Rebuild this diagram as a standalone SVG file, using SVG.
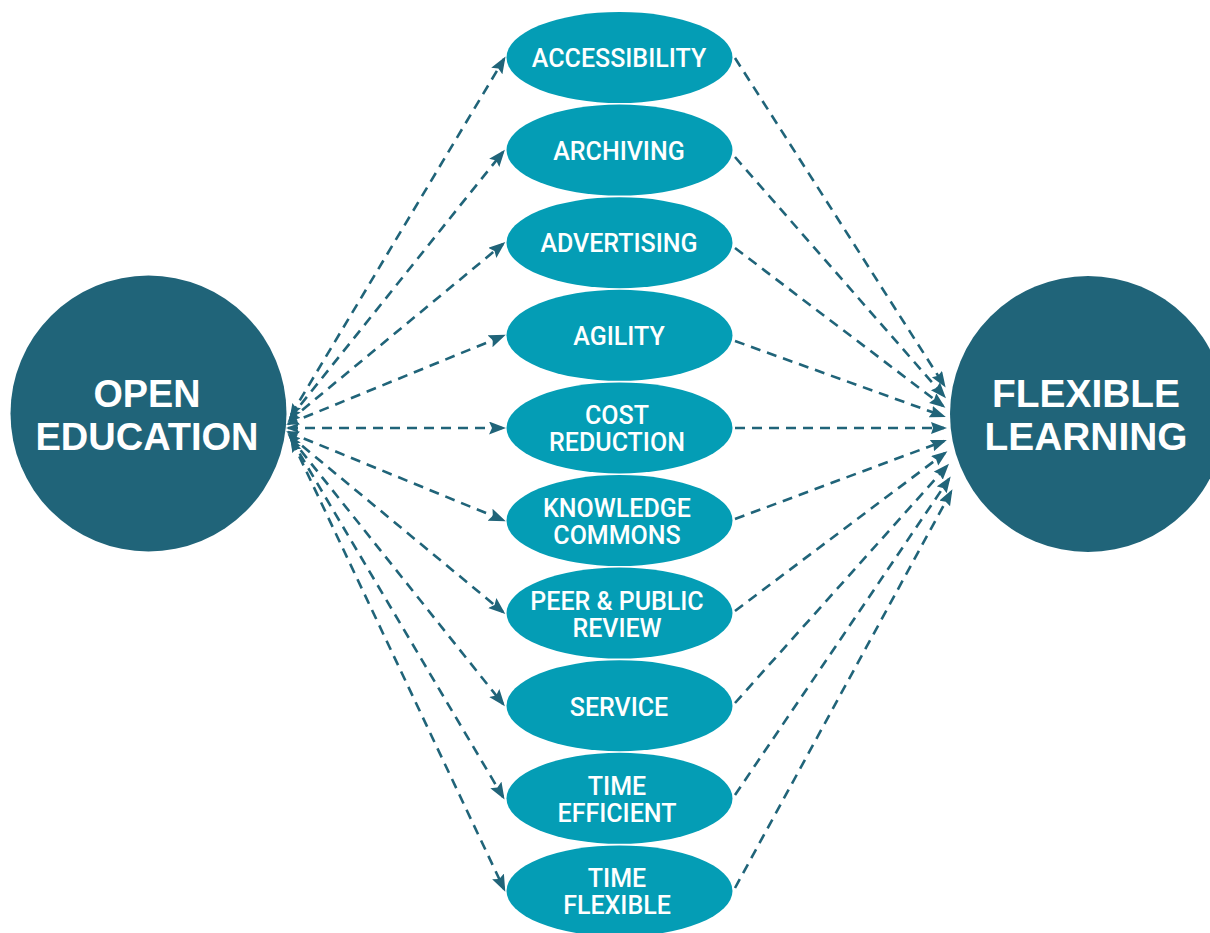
<svg xmlns="http://www.w3.org/2000/svg" width="1210" height="933" viewBox="0 0 1210 933">
<style>
.big{fill:#206479}
.ell{fill:#049db5}
.bt{font-family:"Liberation Sans",Arial,sans-serif;font-weight:700;font-size:38px;fill:#fff;text-anchor:middle}
.et{font-family:Roboto,"Liberation Sans",sans-serif;font-weight:500;font-size:25px;fill:#fff;text-anchor:middle}
.c{stroke:#206479;stroke-width:2.6;stroke-dasharray:10 7;fill:none}
.l{marker-start:url(#as);marker-end:url(#ae)}
.r{marker-end:url(#ar)}
</style>
<defs>
<marker id="ae" markerUnits="userSpaceOnUse" markerWidth="18" markerHeight="14" refX="14" refY="6.5" orient="auto"><path d="M0,0 L17,6.5 L0,13 L3,6.5 z" fill="#206479"/></marker>
<marker id="as" markerUnits="userSpaceOnUse" markerWidth="14" markerHeight="12" refX="11" refY="5" orient="auto-start-reverse"><path d="M0,0 L13,5 L0,10 L2,5 z" fill="#206479"/></marker>
<marker id="ar" markerUnits="userSpaceOnUse" markerWidth="18" markerHeight="14" refX="13" refY="6" orient="auto"><path d="M0,0 L16,6 L0,12 L2,6 z" fill="#206479"/></marker>
</defs>
<g id="connectors">
<line class="c l" x1="291" y1="415" x2="504" y2="59"/>
<line class="c l" x1="290" y1="418" x2="503" y2="152"/>
<line class="c l" x1="289" y1="421" x2="503" y2="244"/>
<line class="c l" x1="288" y1="424" x2="503" y2="336"/>
<line class="c l" x1="288" y1="428" x2="503" y2="428"/>
<line class="c l" x1="288" y1="432" x2="503" y2="520"/>
<line class="c l" x1="289" y1="435" x2="503" y2="612"/>
<line class="c l" x1="290" y1="437" x2="503" y2="704"/>
<line class="c l" x1="291" y1="439" x2="503" y2="797"/>
<line class="c l" x1="292" y1="441" x2="504" y2="889"/>
<line class="c r" x1="735" y1="58" x2="944" y2="385"/>
<line class="c r" x1="735" y1="157" x2="944" y2="396"/>
<line class="c r" x1="735" y1="248" x2="943" y2="406"/>
<line class="c r" x1="735" y1="341" x2="943" y2="416"/>
<line class="c r" x1="735" y1="428" x2="944" y2="428"/>
<line class="c r" x1="735" y1="519" x2="944" y2="441"/>
<line class="c r" x1="735" y1="611" x2="945" y2="453"/>
<line class="c r" x1="735" y1="703" x2="947" y2="466"/>
<line class="c r" x1="735" y1="795" x2="949" y2="479"/>
<line class="c r" x1="735" y1="888" x2="951" y2="492"/>
</g>
<g id="open-education">
<circle class="big" cx="148.5" cy="413.5" r="138"/>
<text class="bt" x="147" y="407" textLength="107" lengthAdjust="spacingAndGlyphs">OPEN</text>
<text class="bt" x="147" y="450" textLength="223" lengthAdjust="spacingAndGlyphs">EDUCATION</text>
</g>
<g id="flexible-learning">
<circle class="big" cx="1088" cy="414" r="138"/>
<text class="bt" x="1086" y="407" textLength="188" lengthAdjust="spacingAndGlyphs">FLEXIBLE</text>
<text class="bt" x="1086" y="450" textLength="203" lengthAdjust="spacingAndGlyphs">LEARNING</text>
</g>
<g id="accessibility"><ellipse class="ell" cx="619.5" cy="57.5" rx="113" ry="45.5"/><text class="et" x="619" y="67">ACCESSIBILITY</text></g>
<g id="archiving"><ellipse class="ell" cx="619.5" cy="150.1" rx="113" ry="45.5"/><text class="et" x="619" y="160">ARCHIVING</text></g>
<g id="advertising"><ellipse class="ell" cx="619.5" cy="242.7" rx="113" ry="45.5"/><text class="et" x="619" y="252">ADVERTISING</text></g>
<g id="agility"><ellipse class="ell" cx="619.5" cy="335.3" rx="113" ry="45.5"/><text class="et" x="619" y="345">AGILITY</text></g>
<g id="cost-reduction"><ellipse class="ell" cx="619.5" cy="427.9" rx="113" ry="45.5"/><text class="et" x="617" y="424">COST</text><text class="et" x="617" y="451">REDUCTION</text></g>
<g id="knowledge-commons"><ellipse class="ell" cx="619.5" cy="520.5" rx="113" ry="45.5"/><text class="et" x="617" y="517">KNOWLEDGE</text><text class="et" x="617" y="544">COMMONS</text></g>
<g id="peer-public-review"><ellipse class="ell" cx="619.5" cy="613.1" rx="113" ry="45.5"/><text class="et" x="617" y="610">PEER &amp; PUBLIC</text><text class="et" x="617" y="637">REVIEW</text></g>
<g id="service"><ellipse class="ell" cx="619.5" cy="705.7" rx="113" ry="45.5"/><text class="et" x="619" y="716">SERVICE</text></g>
<g id="time-efficient"><ellipse class="ell" cx="619.5" cy="798.3" rx="113" ry="45.5"/><text class="et" x="617" y="795">TIME</text><text class="et" x="617" y="822">EFFICIENT</text></g>
<g id="time-flexible"><ellipse class="ell" cx="619.5" cy="890.9" rx="113" ry="45.5"/><text class="et" x="617" y="887">TIME</text><text class="et" x="617" y="914">FLEXIBLE</text></g>
</svg>
